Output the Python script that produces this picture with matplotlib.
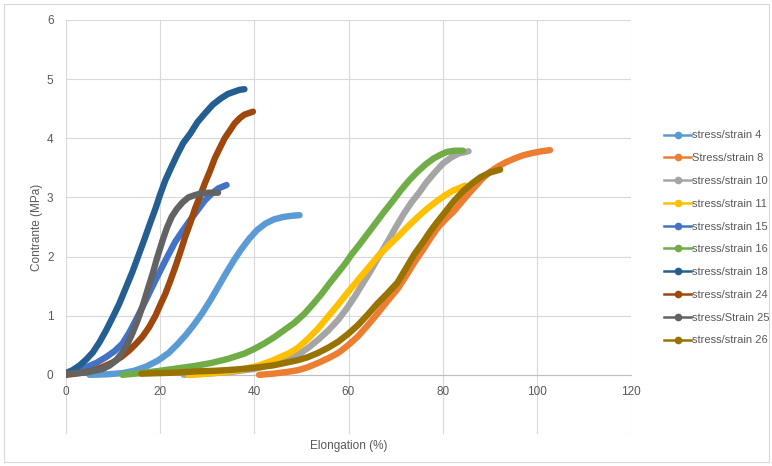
import matplotlib
matplotlib.use("Agg")
import matplotlib.pyplot as plt
from matplotlib.lines import Line2D
from matplotlib.patches import Rectangle

plt.rcParams["font.family"] = ["Liberation Sans", "DejaVu Sans"]

# ---- data (elongation %, stress MPa) ----
labels = ["stress/strain 4", "Stress/strain 8", "stress/strain 10",
          "stress/strain 11", "stress/strain 15", "stress/strain 16",
          "stress/strain 18", "stress/strain 24", "stress/Strain 25",
          "stress/strain 26"]
colors = ["#5B9BD5", "#ED7D31", "#A5A5A5", "#FFC000", "#4472C4",
          "#70AD47", "#255E91", "#9E480E", "#636363", "#997300"]

x4 = [5, 9, 12, 14.5, 17, 19.5, 21.8, 23.7, 25.4, 27, 29, 30.8, 32.4, 34, 35.6, 37.2,
      38.9, 40.6, 42.4, 44.2, 46.2, 48, 49.6]
y4 = [0, 0.01, 0.03, 0.07, 0.14, 0.24, 0.37, 0.52, 0.67, 0.83, 1.05, 1.28, 1.5, 1.72, 1.93, 2.12,
      2.3, 2.45, 2.56, 2.63, 2.67, 2.69, 2.7]

x8 = [41, 44, 47, 49.3, 51.4, 53.5, 55.7, 57.8, 59.9, 62, 64.1, 66.2, 68.3, 70.4, 72.2, 73.9,
      75.7, 77.4, 79, 80.6, 82.3, 84, 85.6, 87.2, 88.7, 90.2, 91.7, 93.3, 95, 97, 99, 101, 102.8]
y8 = [0, 0.02, 0.05, 0.08, 0.13, 0.2, 0.28, 0.37, 0.5, 0.65, 0.84, 1.04, 1.25, 1.45, 1.67, 1.89,
      2.1, 2.31, 2.49, 2.63, 2.76, 2.92, 3.07, 3.21, 3.34, 3.44, 3.52, 3.59, 3.65, 3.71, 3.75, 3.78, 3.8]

x10 = [25, 30, 35, 40, 44, 47, 49.3, 51.5, 53.5, 55.7, 57.8, 59.6, 61.3, 63, 64.8, 66.5, 68.3,
       70, 71.8, 73.4, 75, 76.6, 78.3, 80, 81.7, 83.3, 85.5]
y10 = [0, 0.02, 0.05, 0.1, 0.18, 0.26, 0.34, 0.46, 0.59, 0.75, 0.93, 1.12, 1.32, 1.54, 1.77, 2.01, 2.25,
       2.49, 2.73, 2.92, 3.08, 3.26, 3.42, 3.57, 3.67, 3.74, 3.78]

x11 = [26, 30, 34, 38, 41, 43.5, 45.5, 47.5, 49.3, 51.4, 53.5, 55.7, 57.8, 59.9, 62, 64.1,
       66.2, 68.3, 70.4, 72.5, 74.6, 76.7, 78.8, 80.6, 82.3, 84.8]
y11 = [0, 0.02, 0.05, 0.1, 0.16, 0.23, 0.3, 0.37, 0.46, 0.61, 0.78, 0.99, 1.19, 1.4, 1.6, 1.8,
       2.0, 2.17, 2.33, 2.5, 2.66, 2.81, 2.94, 3.04, 3.12, 3.2]

x15 = [0, 2.1, 4.3, 6.4, 8.5, 10.3, 12, 13.4, 14.8, 16.2, 17.6, 19, 20.4, 21.8, 23.2, 24.8,
       26.4, 28, 29.5, 30.9, 32.3, 34.1]
y15 = [0.03, 0.07, 0.13, 0.2, 0.3, 0.4, 0.53, 0.71, 0.92, 1.14, 1.37, 1.6, 1.82, 2.04, 2.25, 2.44,
       2.62, 2.79, 2.95, 3.06, 3.15, 3.21]

x16 = [12, 16, 20, 23.7, 27.3, 30.8, 34.4, 37.9, 40, 42.1, 44.3, 46.4, 48.5, 50.6, 52.5, 54.3,
       56, 57.8, 59.3, 60.6, 62.4, 64.1, 65.9, 67.6, 69.4, 71.1, 72.9, 74.6, 76.4, 78.1, 79.5,
       80.9, 82.5, 84.3]
y16 = [0, 0.03, 0.07, 0.11, 0.15, 0.2, 0.27, 0.36, 0.44, 0.53, 0.64, 0.76, 0.88, 1.03, 1.2, 1.37,
       1.55, 1.73, 1.88, 2.03, 2.21, 2.39, 2.58, 2.76, 2.94, 3.12, 3.29, 3.43, 3.56, 3.66, 3.72,
       3.77, 3.79, 3.79]

x18 = [0, 1.4, 2.9, 4.3, 5.7, 7.1, 8.5, 9.9, 11.3, 12.7, 14.1, 15.35, 16.6, 17.8, 19, 20,
       21.1, 22.3, 23.6, 24.9, 26.4, 27.9, 29.5, 31.2, 33, 34.4, 35.8, 36.9, 37.9]
y18 = [0.03, 0.08, 0.16, 0.26, 0.38, 0.55, 0.75, 0.97, 1.2, 1.47, 1.74, 2.01, 2.28, 2.55, 2.81, 3.05,
       3.29, 3.5, 3.72, 3.92, 4.08, 4.27, 4.42, 4.57, 4.68, 4.75, 4.79, 4.82, 4.83]

x24 = [0, 3, 5.7, 8, 9.9, 11.7, 13.4, 14.8, 16.2, 17.6, 19, 20, 21.1, 22.2, 23.2, 24.3, 25.3,
       26.4, 27.4, 28.5, 29.5, 30.6, 31.6, 32.7, 33.7, 34.8, 35.8, 36.9, 37.9, 39.7]
y24 = [0, 0.03, 0.07, 0.14, 0.21, 0.3, 0.41, 0.52, 0.64, 0.8, 1.0, 1.18, 1.37, 1.6, 1.82, 2.08, 2.33,
       2.57, 2.81, 3.03, 3.24, 3.45, 3.66, 3.84, 4.0, 4.13, 4.25, 4.34, 4.4, 4.45]

x25 = [0, 4.3, 7.8, 9.3, 10.6, 11.9, 13.1, 14.2, 15.2, 16.3, 17.3, 18.4, 19.4, 20.5, 21.5, 22.5,
       23.6, 24.8, 26, 27.4, 28.8, 30.5, 32.3]
y25 = [0.02, 0.04, 0.1, 0.16, 0.24, 0.37, 0.53, 0.72, 0.92, 1.17, 1.43, 1.71, 1.99, 2.27, 2.5, 2.68,
       2.81, 2.92, 3.0, 3.04, 3.07, 3.08, 3.08]

x26 = [16, 20, 24, 28, 32, 36, 40, 44, 47, 49.3, 51.4, 53.5, 55.7, 57.8, 59.9, 62, 64.1, 66.2,
       68.3, 70.4, 72.2, 73.9, 75.7, 77.4, 78.8, 80.2, 82.3, 84.5, 86.3, 88, 90, 92.2]
y26 = [0.02, 0.03, 0.04, 0.06, 0.07, 0.09, 0.12, 0.16, 0.21, 0.25, 0.3, 0.37, 0.46, 0.56, 0.69, 0.84,
       1.02, 1.21, 1.38, 1.56, 1.8, 2.03, 2.23, 2.43, 2.58, 2.72, 2.93, 3.12, 3.24, 3.34, 3.42, 3.47]

series = [(x4, y4), (x8, y8), (x10, y10), (x11, y11), (x15, y15),
          (x16, y16), (x18, y18), (x24, y24), (x25, y25), (x26, y26)]

xticks = [0, 20, 40, 60, 80, 100, 120]
yticks = [0, 1, 2, 3, 4, 5, 6]

# ---- figure ----
W, H = 772, 466
fig = plt.figure(figsize=(W / 100, H / 100), dpi=100)
fig.patches.append(Rectangle((4 / W, 4 / H), 765 / W, 458 / H, transform=fig.transFigure,
                             fill=False, edgecolor="#D9D9D9", lw=0.8))

ax = fig.add_axes([66 / W, 1 - 434 / H, 565 / W, 414 / H])
grid_c = "#D9D9D9"
text_c = "#595959"

for (xs, ys), c in zip(series, colors):
    ax.plot(xs, ys, color=c, lw=4.6, solid_capstyle="round", solid_joinstyle="round", zorder=3)

ax.set_xlim(0, 120)
ax.set_ylim(-1, 6)
ax.set_xticks(xticks)
ax.set_yticks(yticks)
ax.grid(True, color=grid_c, lw=0.8, zorder=0)
ax.axhline(-1, color=grid_c, lw=0.8, zorder=0)
for side in ("top", "right", "left"):
    ax.spines[side].set_visible(False)
ax.spines["bottom"].set_position(("data", 0))
ax.spines["bottom"].set_color("#BFBFBF")
ax.tick_params(length=0, labelsize=8.5, colors=text_c)
ax.tick_params(axis="x", pad=8)
ax.tick_params(axis="y", pad=9)

ax.set_xlabel("Elongation (%)", fontsize=8.5, color=text_c)
ax.xaxis.set_label_coords(0.5, -0.015)
ax.set_ylabel("Contrante (MPa)", fontsize=8.5, color=text_c)
ax.yaxis.set_label_coords(-0.04, 0.5)

handles = [Line2D([0], [0], color=c, lw=1.8, marker="o", markersize=4.5) for c in colors]
fig.legend(handles, labels, loc="upper left", bbox_to_anchor=(660 / W, 1 - 126 / H),
           frameon=False, fontsize=8, handlelength=2.4, handletextpad=0.1,
           labelspacing=1.15, labelcolor=text_c, borderaxespad=0)

fig.savefig("out.png", dpi=100)
